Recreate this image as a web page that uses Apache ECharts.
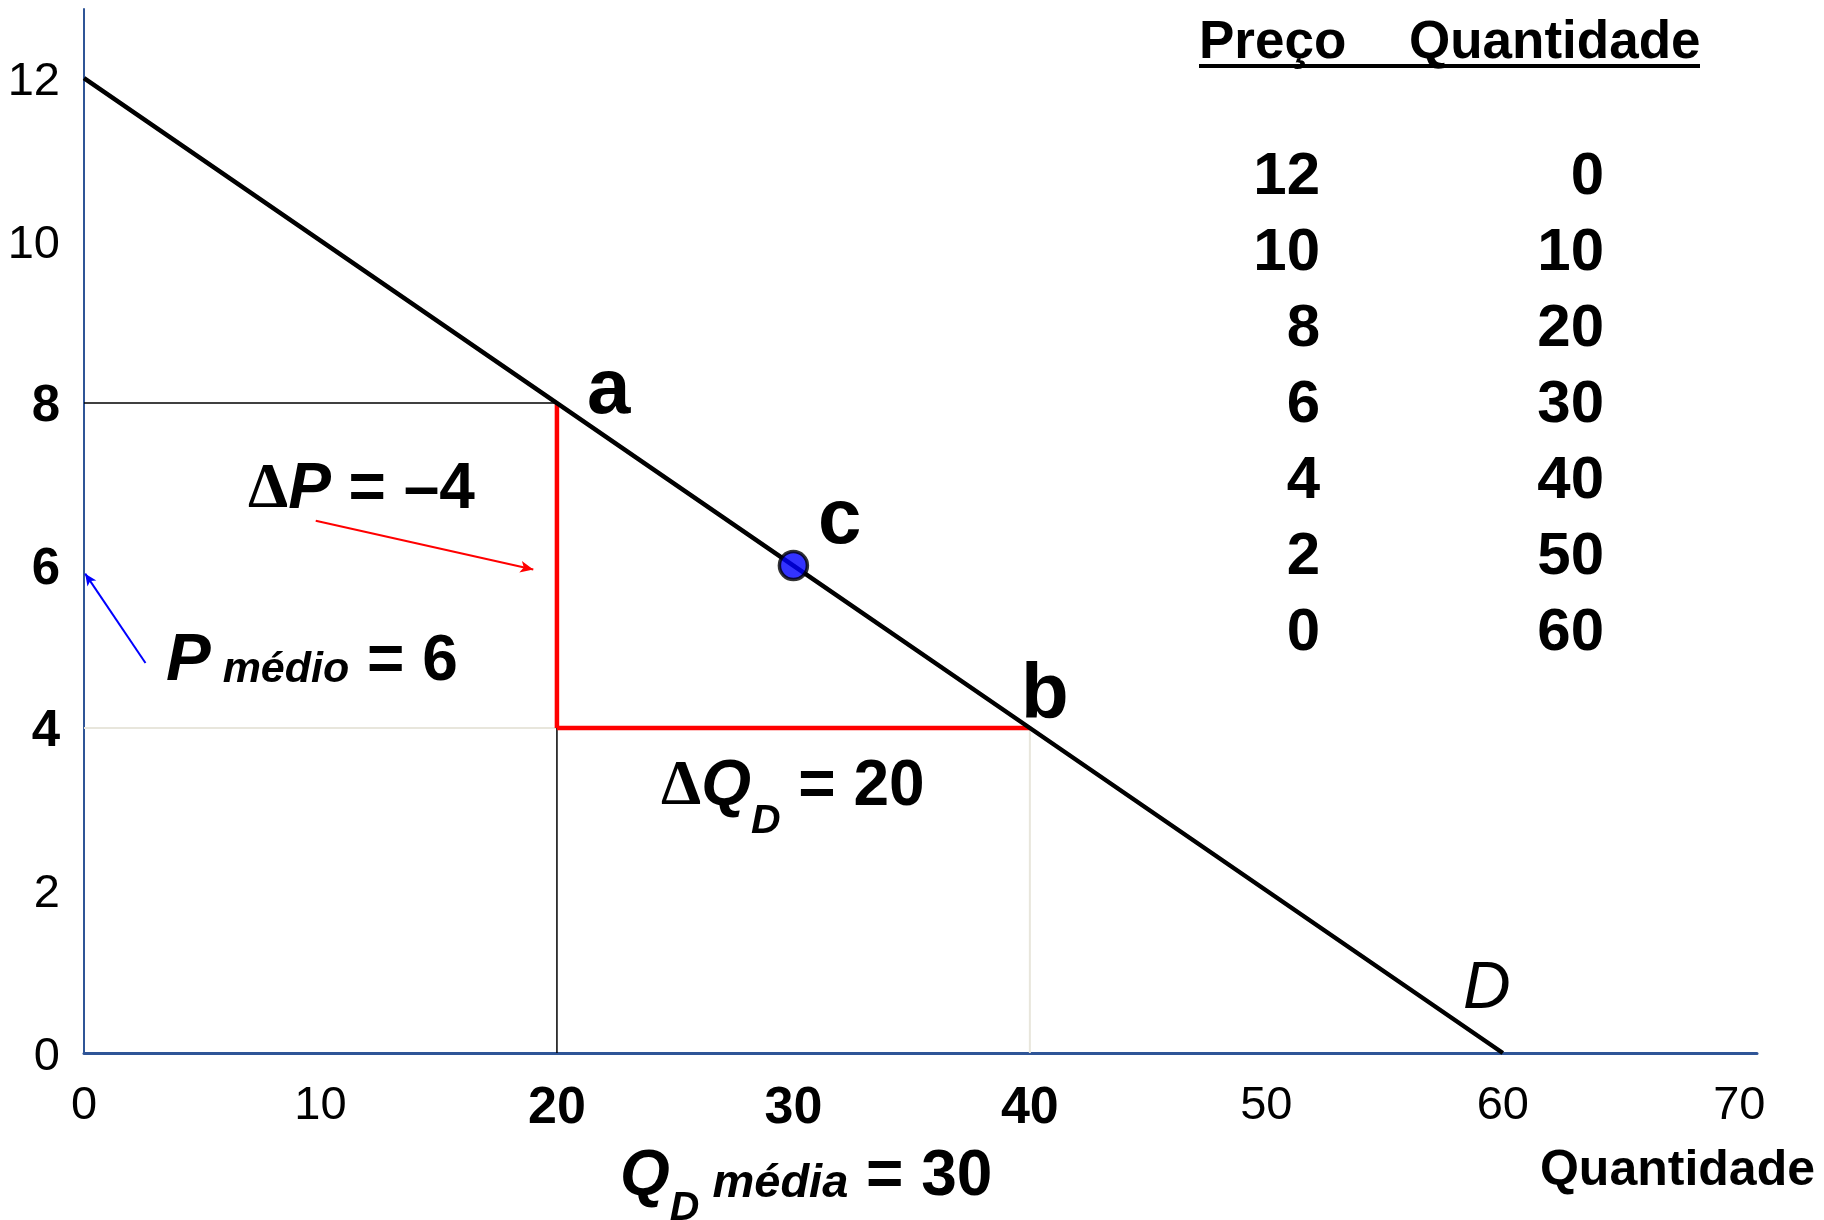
<!DOCTYPE html>
<html>
<head>
<meta charset="utf-8">
<script src="https://cdn.jsdelivr.net/npm/echarts@6/dist/echarts.min.js"></script>
<style>
  html, body { margin: 0; padding: 0; background: #ffffff; }
  #chart { width: 1824px; height: 1220px; }
</style>
</head>
<body>
<div id="chart"></div>
<script>
// Demand schedule: price and quantity demanded
const prices = [12, 10, 8, 6, 4, 2, 0];
const quantities = [0, 10, 20, 30, 40, 50, 60];
// Arc elasticity endpoints a and b (positions in the schedule)
const idxA = 2;
const idxB = 4;
// Axis tick labels
const xTicks = [0, 10, 20, 30, 40, 50, 60, 70];
const yTicks = [0, 2, 4, 6, 8, 10, 12];
const tableHeader = ['Preço', 'Quantidade'];
const axisTitle = 'Quantidade';

const pA = { q: quantities[idxA], p: prices[idxA] };
const pB = { q: quantities[idxB], p: prices[idxB] };
const pC = { q: (pA.q + pB.q) / 2, p: (pA.p + pB.p) / 2 };
const dP = pB.p - pA.p;
const dQ = pB.q - pA.q;
const boldQ = [pA.q, pC.q, pB.q];
const boldP = [pA.p, pC.p, pB.p];

const SANS = '"Liberation Sans", Arial, sans-serif';
const SERIF = '"Liberation Serif", "Times New Roman", serif';
const AXIS_BLUE = '#2f5597';

const chart = echarts.init(document.getElementById('chart'), null, { renderer: 'canvas' });

// text helpers: place text by its left edge and baseline
const measCtx = document.createElement('canvas').getContext('2d');
function txt(s, x, baseline, font, size, align, color) {
  const a = align || 'left';
  return {
    type: 'text', x: x, y: baseline - 0.3465 * size, z: 100,
    style: {
      text: s, font: font, fill: color || '#000',
      textAlign: a, align: a, textVerticalAlign: 'middle', verticalAlign: 'middle'
    }
  };
}
function runs(x0, baseline, parts) {
  const out = [];
  let x = x0;
  parts.forEach(function (p) {
    out.push(txt(p.t, x, baseline + (p.dy || 0), p.font, p.size));
    measCtx.font = p.font;
    x += measCtx.measureText(p.t).width + (p.gap || 0);
  });
  return out;
}
const f = (style, size, fam) => `${style} ${size}px ${fam || SANS}`;

function seg(data, color, width, z) {
  return {
    type: 'line', data: data, symbol: 'none', silent: true, z: z,
    lineStyle: { color: color, width: width, cap: 'butt' }
  };
}

const demand = quantities.map((q, i) => [q, prices[i]]);

const tickLabel = (bolds, ticks) => function (v) {
  if (ticks.indexOf(v) < 0) return '';
  return bolds.indexOf(v) >= 0 ? `{b|${v}}` : `{r|${v}}`;
};

const option = {
  backgroundColor: '#ffffff',
  animation: false,
  grid: { left: 84, right: 67, top: 9, bottom: 167, containLabel: false, outerBoundsMode: 'none' },
  xAxis: {
    type: 'value', min: 0, max: 70.75, interval: 10,
    axisLine: { show: true, lineStyle: { color: AXIS_BLUE, width: 3 } },
    axisTick: { show: false },
    splitLine: { show: false },
    axisLabel: {
      margin: 30, formatter: tickLabel(boldQ, xTicks),
      rich: {
        r: { fontFamily: SANS, fontSize: 47, color: '#000' },
        b: { fontFamily: SANS, fontSize: 52, fontWeight: 'bold', color: '#000' }
      }
    }
  },
  yAxis: {
    type: 'value', min: 0, max: 12.85, interval: 2,
    axisLine: { show: true, onZero: false, lineStyle: { color: AXIS_BLUE, width: 2 } },
    axisTick: { show: false },
    splitLine: { show: false },
    axisLabel: {
      margin: 24, formatter: tickLabel(boldP, yTicks),
      rich: {
        r: { fontFamily: SANS, fontSize: 47, color: '#000', padding: [8, 0, 0, 0] },
        b: { fontFamily: SANS, fontSize: 51, fontWeight: 'bold', color: '#000', padding: [8, 0, 0, 0] }
      }
    }
  },
  series: [
    // guide lines to the axes
    seg([[0, pB.p], [pA.q, pB.p]], '#e8e6dc', 2, 1),
    seg([[pB.q, pB.p], [pB.q, 0]], '#e8e6dc', 2, 1),
    seg([[0, pA.p], [pA.q, pA.p]], '#000000', 1.5, 2),
    seg([[pA.q, pB.p], [pA.q, 0]], '#000000', 1.5, 2),
    // ΔP and ΔQ legs
    Object.assign(seg([[pA.q, pA.p], [pA.q, pB.p]], '#ff0000', 4.5, 3), {
      markLine: {
        silent: true, symbol: ['none', 'arrow'], symbolSize: [9, 13],
        label: { show: false },
        lineStyle: { type: 'solid', color: '#ff0000', width: 2 },
        data: [[{ coord: [9.8, 6.55] }, { coord: [pA.q - 1, 5.95] }]]
      }
    }),
    seg([[pA.q, pB.p], [pB.q, pB.p]], '#ff0000', 4.5, 3),
    // demand curve D
    {
      type: 'line', data: demand, symbol: 'none', silent: true, z: 5,
      lineStyle: { color: '#000000', width: 4.5 }
    },
    // midpoint c
    {
      type: 'scatter', data: [[pC.q, pC.p]], symbol: 'circle', symbolSize: 28, z: 6, silent: true,
      itemStyle: { color: '#0000ff', borderColor: '#000000', borderWidth: 3.5 },
      markLine: {
        silent: true, symbol: ['none', 'arrow'], symbolSize: [8, 12],
        label: { show: false },
        lineStyle: { type: 'solid', color: '#0000ff', width: 2 },
        data: [[{ coord: [2.6, 4.8] }, { coord: [0.05, pC.p - 0.1] }]]
      }
    }
  ]
};
chart.setOption(option);

// annotations and the demand schedule table
const els = [];
// table header with underline
els.push(txt(tableHeader[0], 1199, 62, f('bold', 53), 53));
els.push(txt(tableHeader[1], 1409, 62, f('bold', 53), 53));
els.push({ type: 'line', z: 100, shape: { x1: 1199, y1: 66, x2: 1700, y2: 66 }, style: { stroke: '#000', lineWidth: 4 } });
// table rows
prices.forEach(function (p, i) {
  const base = 198 + i * 76;
  els.push(txt(String(p), 1320, base, f('bold', 60), 60, 'right'));
  els.push(txt(String(quantities[i]), 1604, base, f('bold', 60), 60, 'right'));
});
// point letters
els.push(txt('a', 587, 419, f('bold', 78), 78));
els.push(txt('c', 818, 549, f('bold', 78), 78));
els.push(txt('b', 1021, 724, f('bold', 78), 78));
els.push(txt('D', 1463, 1013, f('italic', 66), 66));
// ΔP = –4
runs(248, 513, [
  { t: 'Δ', font: f('bold', 64, SERIF), size: 64 },
  { t: 'P', font: f('italic bold', 64), size: 64 },
  { t: ' = ' + (dP < 0 ? '\u2013' : '') + Math.abs(dP), font: f('bold', 64), size: 64 }
]).forEach(e => els.push(e));
// P médio = 6
runs(166, 685, [
  { t: 'P', font: f('italic bold', 67), size: 67 },
  { t: ' médio', font: f('italic bold', 43), size: 43 },
  { t: ' = ' + pC.p, font: f('bold', 64), size: 64 }
]).forEach(e => els.push(e));
// ΔQD = 20
runs(661, 810, [
  { t: 'Δ', font: f('bold', 64, SERIF), size: 64 },
  { t: 'Q', font: f('italic bold', 64), size: 64 },
  { t: 'D', font: f('italic bold', 41), size: 41, dy: 26 },
  { t: ' = ' + dQ, font: f('bold', 64), size: 64 }
]).forEach(e => els.push(e));
// QD média = 30
runs(620, 1200, [
  { t: 'Q', font: f('italic bold', 64), size: 64 },
  { t: 'D', font: f('italic bold', 41), size: 41, dy: 23 },
  { t: ' média', font: f('italic bold', 47), size: 47 },
  { t: ' = ' + pC.q, font: f('bold', 64), size: 64 }
]).forEach(e => els.push(e));
// x-axis title
els.push(txt(axisTitle, 1815, 1189, f('bold', 50), 50, 'right'));

chart.setOption({ graphic: { elements: els } });
</script>
</body>
</html>
